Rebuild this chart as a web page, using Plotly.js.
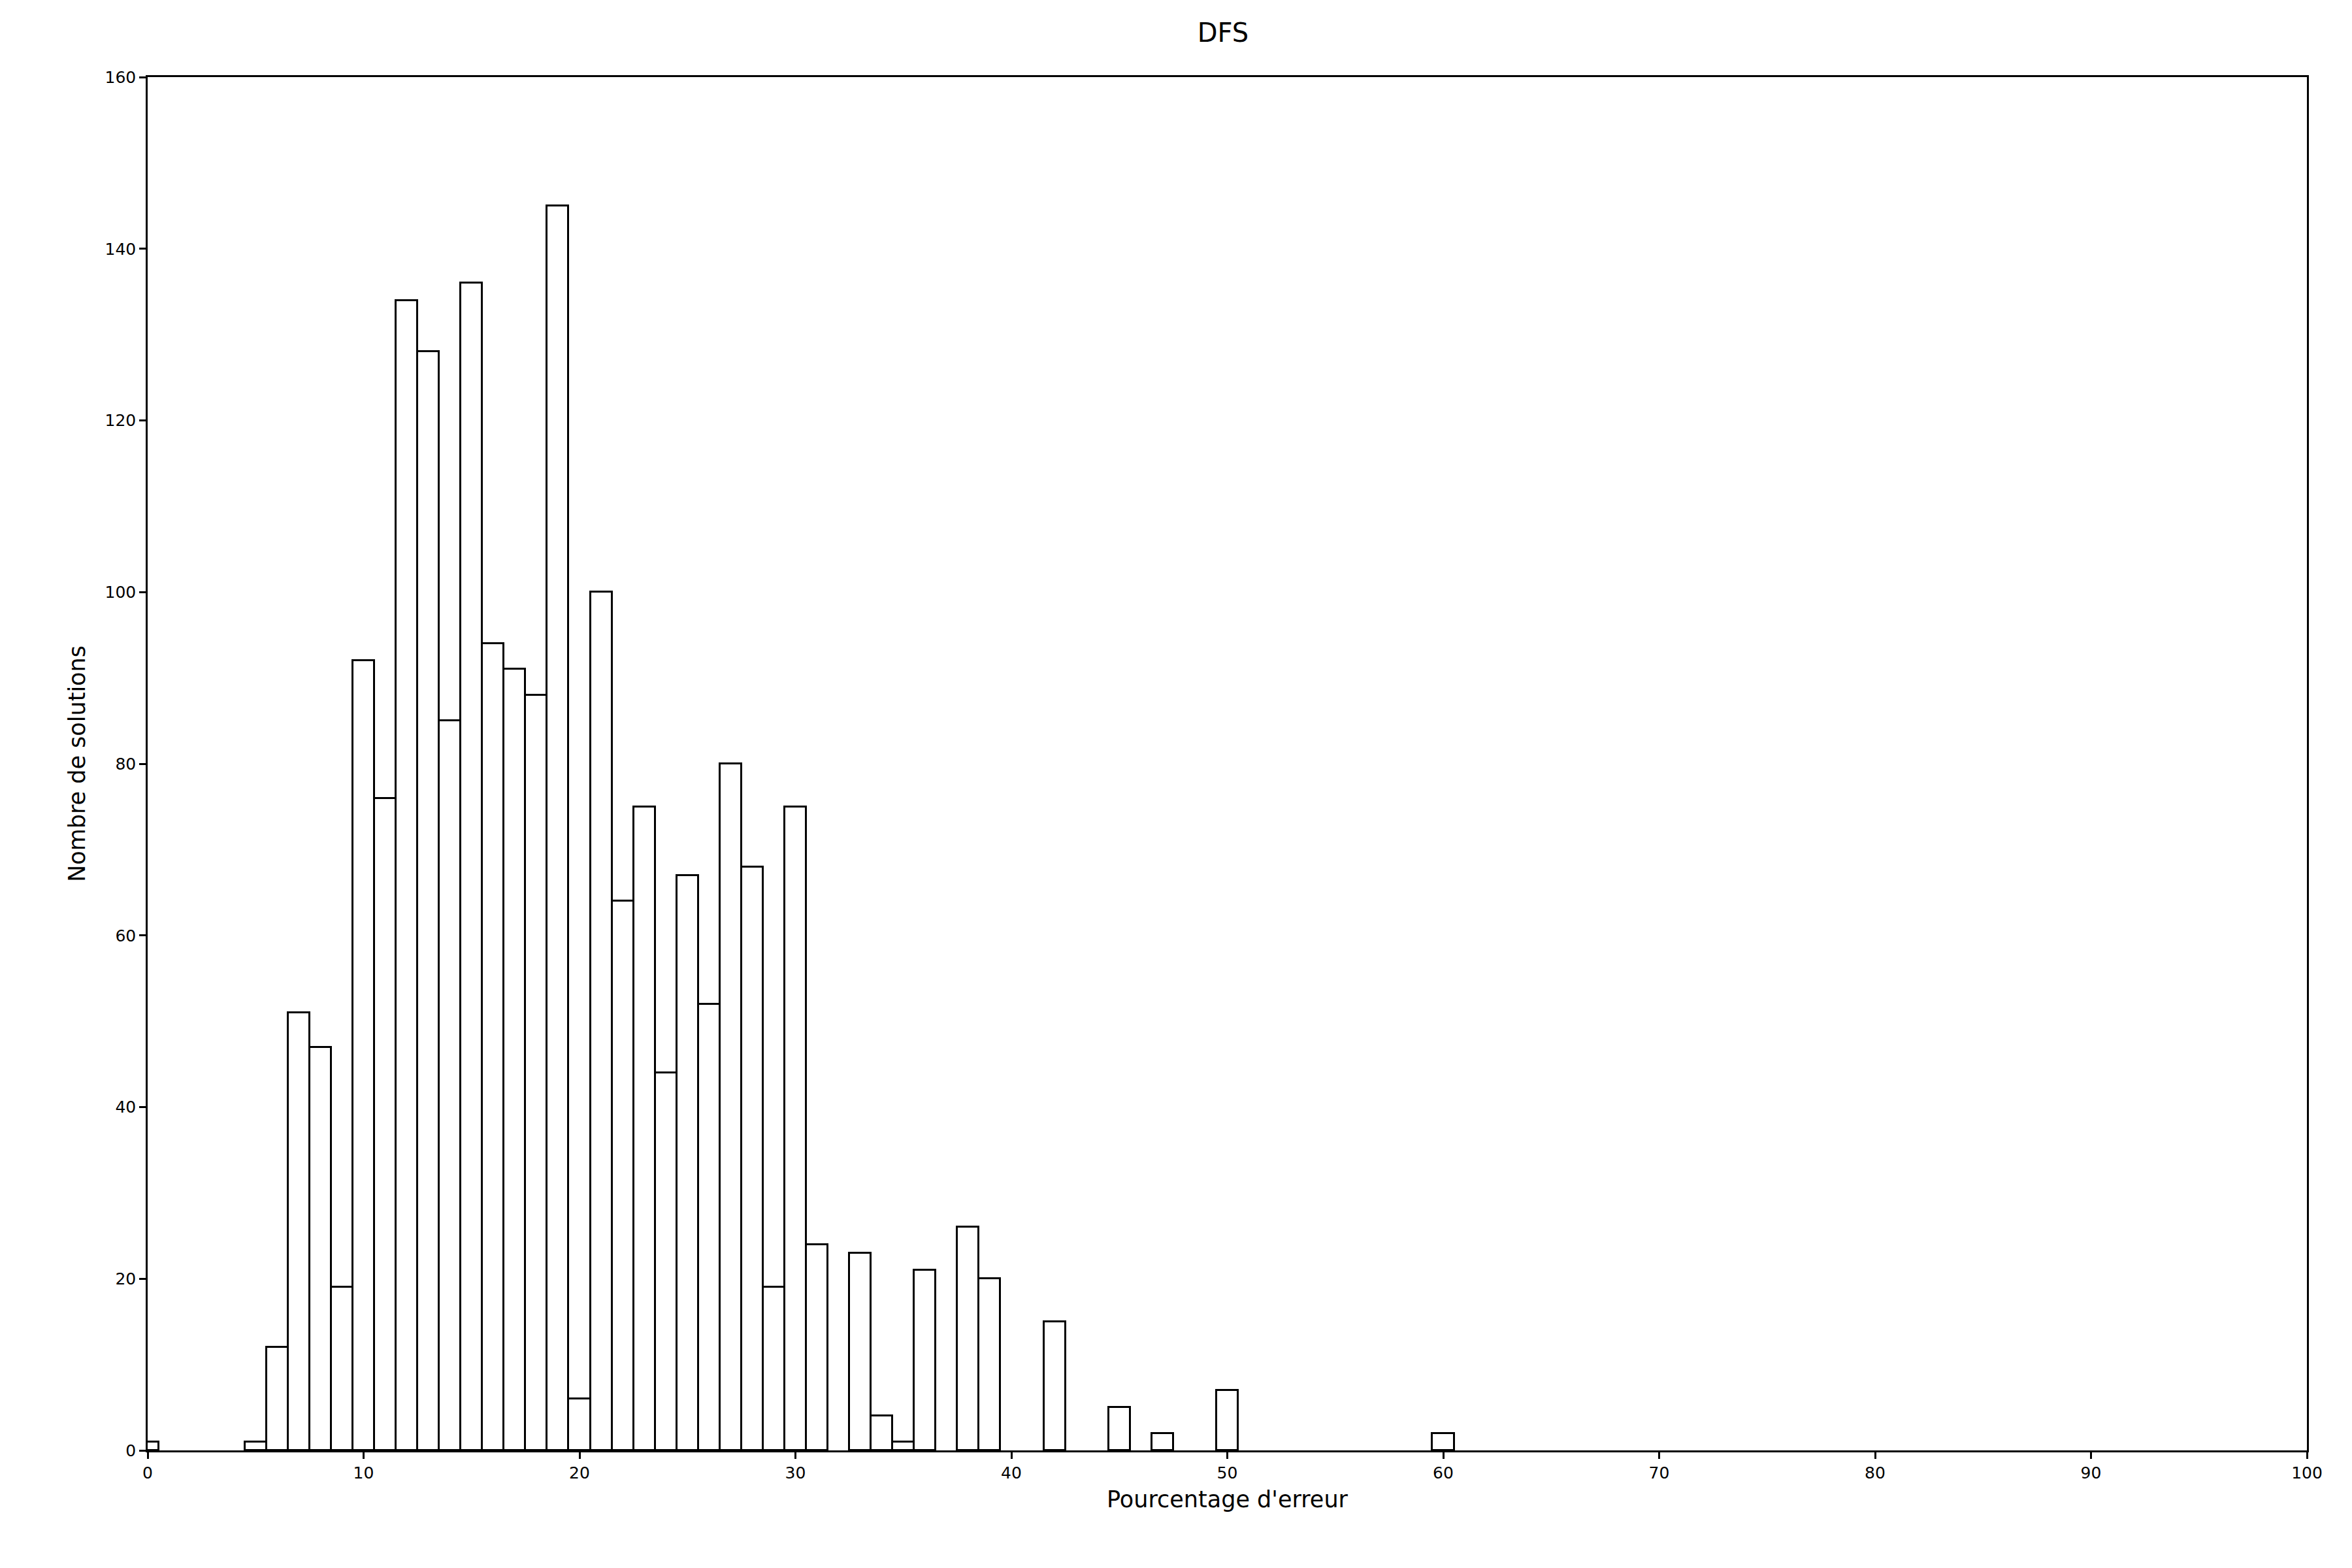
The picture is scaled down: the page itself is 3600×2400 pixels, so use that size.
<!DOCTYPE html>
<html>
<head>
<meta charset="utf-8">
<script src="https://cdn.plot.ly/plotly-3.0.1.min.js"></script>
<style>body{margin:0;background:#fff}</style>
</head>
<body>
<div id="chart" style="width:3600px;height:2400px"></div>
<script>
// bin centres (pourcentage d'erreur) and counts
const centres = [0, 5, 6, 7, 8, 9, 10, 11, 12, 13, 14, 15, 16, 17, 18, 19, 20, 21, 22, 23, 24, 25, 26, 27, 28, 29, 30, 31, 33, 34, 35, 36, 38, 39, 42, 45, 47, 50, 60];
const counts = [1, 1, 12, 51, 47, 19, 92, 76, 134, 128, 85, 136, 94, 91, 88, 145, 6, 100, 64, 75, 44, 67, 52, 80, 68, 19, 75, 24, 23, 4, 1, 21, 26, 20, 15, 5, 2, 7, 2];

const trace = {
  type: 'bar',
  x: centres,
  y: counts,
  width: 1,
  marker: {color: 'white', line: {color: 'black', width: 3}},
  hoverinfo: 'x+y'
};

const axisFont = {family: 'DejaVu Sans', size: 25, color: 'black'};

const layout = {
  width: 3600, height: 2400,
  margin: {l: 226, r: 69, t: 118, b: 180},
  paper_bgcolor: 'white', plot_bgcolor: 'white',
  showlegend: false,
  bargap: 0,
  title: {text: 'DFS', font: {family: 'DejaVu Sans', size: 40, color: 'black'}, x: 0.52, y: 0.985, yanchor: 'top'},
  xaxis: {
    range: [0, 100], dtick: 10, tick0: 0,
    showgrid: false, zeroline: false,
    showline: true, mirror: true, linecolor: 'black', linewidth: 2.5,
    ticks: 'outside', ticklen: 10, tickwidth: 2.5, tickcolor: 'black',
    tickfont: axisFont,
    title: {text: "Pourcentage d'erreur", font: {family: 'DejaVu Sans', size: 35, color: 'black'}, standoff: 15}
  },
  yaxis: {
    range: [0, 160], dtick: 20, tick0: 0,
    showgrid: false, zeroline: false,
    showline: true, mirror: true, linecolor: 'black', linewidth: 2.5,
    ticks: 'outside', ticklen: 10, tickwidth: 2.5, tickcolor: 'black',
    tickfont: axisFont,
    title: {text: 'Nombre de solutions', font: {family: 'DejaVu Sans', size: 35, color: 'black'}, standoff: 20}
  }
};

Plotly.newPlot('chart', [trace], layout, {displayModeBar: false});
</script>
</body>
</html>
